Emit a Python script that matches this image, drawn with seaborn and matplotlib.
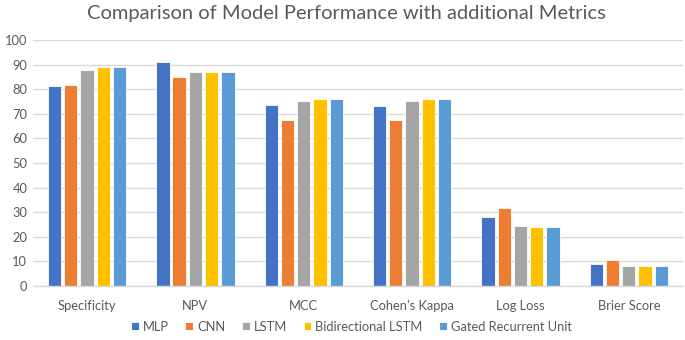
import matplotlib
matplotlib.use("Agg")
import matplotlib.pyplot as plt
import seaborn as sns
import pandas as pd

metrics = ["Specificity", "NPV", "MCC", "Cohen\u2019s Kappa", "Log Loss", "Brier Score"]
models = ["MLP", "CNN", "LSTM", "Bidirectional LSTM", "Gated Recurrent Unit"]
mlp = [81.3, 91.3, 73.6, 73.0, 27.9, 9.1]
cnn = [81.7, 85.0, 67.5, 67.5, 31.6, 10.6]
lstm = [87.9, 86.9, 75.1, 75.1, 24.3, 8.1]
bilstm = [88.9, 86.9, 75.9, 75.9, 24.0, 8.0]
gru = [88.9, 86.9, 75.9, 75.9, 23.9, 8.0]
colors = ["#4472C4", "#ED7D31", "#A5A5A5", "#FFC000", "#5B9BD5"]

rows = []
for m, vals in zip(models, [mlp, cnn, lstm, bilstm, gru]):
    for k, v in zip(metrics, vals):
        rows.append({"Metric": k, "Model": m, "Value": v})
df = pd.DataFrame(rows)

sns.set_theme(style="white")
plt.rcParams["font.family"] = ["Lato", "DejaVu Sans"]
text_color = "#595959"

fig = plt.figure(figsize=(6.85, 3.4), dpi=100)
ax = fig.add_axes([0.048, 0.159, 0.949, 0.723])
sns.barplot(data=df, x="Metric", y="Value", hue="Model", order=metrics,
            hue_order=models, palette=colors, saturation=1, width=0.75, gap=0.18,
            edgecolor="white", linewidth=0.6, ax=ax, legend=True)

ax.set_ylim(0, 100)
ax.set_yticks(range(0, 101, 10))
ax.set_xlim(-0.5, len(metrics) - 0.5)
ax.yaxis.grid(True, color="#D9D9D9", linewidth=1)
ax.set_axisbelow(True)
for s in ["top", "right", "left"]:
    ax.spines[s].set_visible(False)
ax.spines["bottom"].set_color("#D9D9D9")
ax.spines["bottom"].set_linewidth(1)
ax.tick_params(axis="both", length=0, labelsize=9.3, colors=text_color)
ax.tick_params(axis="x", pad=10)
ax.tick_params(axis="y", pad=4)
ax.set_xlabel("")
ax.set_ylabel("")

fig.suptitle("Comparison of Model Performance with additional Metrics",
             x=0.506, y=0.985, fontsize=14.5, color=text_color)

handles, labels = ax.get_legend_handles_labels()
ax.legend(handles, labels, loc="center", bbox_to_anchor=(0.49, -0.165),
          ncol=5, frameon=False, fontsize=9.3, labelcolor=text_color,
          handlelength=0.6, handleheight=0.6, handletextpad=0.3,
          columnspacing=1.3)

fig.savefig("out.png", dpi=100)
